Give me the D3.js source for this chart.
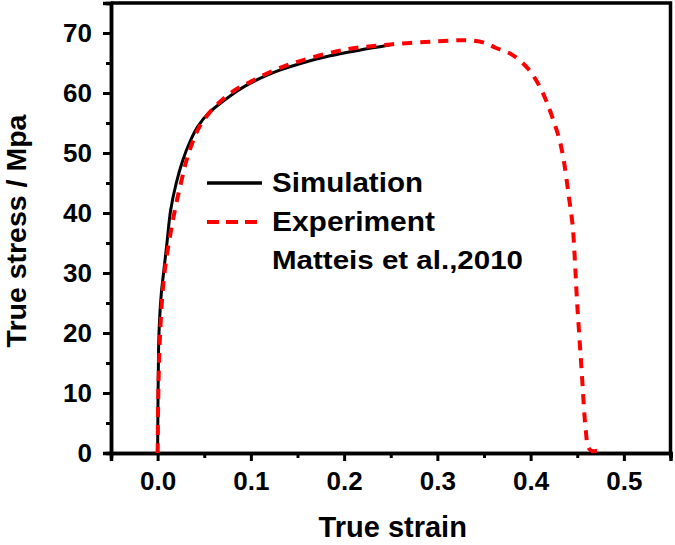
<!DOCTYPE html>
<html>
<head>
<meta charset="utf-8">
<script src="https://cdn.jsdelivr.net/npm/d3@7"></script>
<style>
  body { margin: 0; background: #fff; }
  text { font-family: "Liberation Sans", Arial, sans-serif; font-weight: bold; fill: #000; }
</style>
</head>
<body>
<div id="chart"></div>
<script>
var svgWidth = 675;
var svgHeight = 545;

// Simulation (black solid)
var simStrain = [0, 0.001, 0.002, 0.004, 0.006, 0.01, 0.014, 0.02, 0.027, 0.035, 0.043, 0.055, 0.07, 0.085, 0.099, 0.115, 0.131, 0.155, 0.185, 0.215, 0.249];
var simStress = [0, 17, 22, 26.7, 29.5, 35, 40.5, 45, 48.8, 52, 54.4, 56.7, 58.6, 60.3, 61.6, 62.8, 63.8, 65, 66.2, 67.1, 68];

// Experiment (red dashed)
var expStrain = [0, 0.001, 0.003, 0.006, 0.01, 0.0185, 0.025, 0.031, 0.038, 0.045, 0.06, 0.08, 0.1, 0.125, 0.15, 0.2, 0.25, 0.3, 0.33, 0.35, 0.363, 0.38, 0.397, 0.409, 0.4165, 0.4236, 0.431, 0.436, 0.441, 0.445, 0.4475, 0.4495, 0.452, 0.455, 0.459, 0.462, 0.466, 0.472, 0.48];
var expStress = [0, 12, 21, 28, 33, 40.5, 45, 48.8, 52, 54.4, 57.5, 60.2, 61.9, 63.8, 65.2, 67.2, 68.1, 68.6, 68.8, 68.4, 67.5, 66.4, 64.1, 61.3, 58.8, 55.8, 52.2, 48.3, 42.7, 38, 32, 26, 20, 13, 4, 0.9, 0.3, 0.4, 0.5];

var xTicks = [0, 0.1, 0.2, 0.3, 0.4, 0.5];
var xMinor = [-0.05, 0.05, 0.15, 0.25, 0.35, 0.45, 0.55];
var yTicks = [0, 10, 20, 30, 40, 50, 60, 70];
var yMinor = [5, 15, 25, 35, 45, 55, 65];

var legendLabels = ["Simulation", "Experiment", "Matteis et al.,2010"];

var margin = { top: 3, right: 4.5, bottom: 92, left: 111 };
var chartWidth = svgWidth - margin.left - margin.right;
var chartHeight = svgHeight - margin.top - margin.bottom;

var svg = d3.select("#chart").append("svg")
    .attr("width", svgWidth)
    .attr("height", svgHeight);

var chartGroup = svg.append("g")
    .attr("transform", `translate(${margin.left}, ${margin.top})`);

// scales
var x = d3.scaleLinear().domain([-0.05, 0.55]).range([0, chartWidth]);
var y = d3.scaleLinear().domain([0, 75]).range([chartHeight, 0]);

// frame (top + right)
chartGroup.append("path")
    .attr("d", `M0,0H${chartWidth}V${chartHeight}`)
    .attr("fill", "none")
    .attr("stroke", "#000")
    .attr("stroke-width", 3.5);

// minor ticks
var bottomMinor = d3.axisBottom(x).tickValues(xMinor).tickSize(5).tickFormat("");
var leftMinor = d3.axisLeft(y).tickValues(yMinor).tickSize(5).tickFormat("");

chartGroup.append("g")
    .attr("class", "axis")
    .attr("transform", `translate(0, ${chartHeight})`)
    .call(bottomMinor);
chartGroup.append("g")
    .attr("class", "axis")
    .call(leftMinor);

// major axes
var bottomAxis = d3.axisBottom(x).tickValues(xTicks).tickSize(8).tickPadding(11).tickFormat(d3.format(".1f"));
var leftAxis = d3.axisLeft(y).tickValues(yTicks).tickSize(8).tickPadding(11).tickFormat(d3.format("d"));

chartGroup.append("g")
    .attr("class", "axis")
    .attr("transform", `translate(0, ${chartHeight})`)
    .call(bottomAxis);
chartGroup.append("g")
    .attr("class", "axis")
    .call(leftAxis);

chartGroup.selectAll(".axis path.domain")
    .attr("stroke", "#000")
    .attr("stroke-width", 3.5);
chartGroup.selectAll(".axis line")
    .attr("stroke", "#000")
    .attr("stroke-width", 3);
chartGroup.selectAll(".axis text")
    .style("font-size", "26px")
    .style("font-family", "Liberation Sans, Arial, sans-serif")
    .style("font-weight", "bold");

// lines
var simData = simStrain.map((d, i) => ({ x: d, y: simStress[i] }));
var expData = expStrain.map((d, i) => ({ x: d, y: expStress[i] }));

var line = d3.line()
    .x(d => x(d.x))
    .y(d => y(d.y))
    .curve(d3.curveCatmullRom.alpha(0.5));

chartGroup.append("path")
    .datum(simData)
    .attr("d", line)
    .attr("fill", "none")
    .attr("stroke", "#000")
    .attr("stroke-width", 3);

chartGroup.append("path")
    .datum(expData)
    .attr("d", line)
    .attr("fill", "none")
    .attr("stroke", "#ff0000")
    .attr("stroke-width", 4)
    .attr("stroke-dasharray", "10,8");

// legend
var legend = svg.append("g").attr("transform", "translate(207, 0)");

legend.append("line")
    .attr("x1", 0).attr("x2", 55)
    .attr("y1", 183).attr("y2", 183)
    .attr("stroke", "#000")
    .attr("stroke-width", 3.5);

legend.append("line")
    .attr("x1", 0).attr("x2", 55)
    .attr("y1", 222).attr("y2", 222)
    .attr("stroke", "#ff0000")
    .attr("stroke-width", 4)
    .attr("stroke-dasharray", "12,7");

legend.selectAll("text.leg")
    .data(legendLabels)
    .enter()
    .append("text")
    .attr("class", "leg")
    .attr("x", 65)
    .attr("y", (d, i) => [192, 231, 269][i])
    .attr("textLength", (d, i) => [151, 163, 251][i])
    .attr("lengthAdjust", "spacingAndGlyphs")
    .style("font-size", (d, i) => i < 2 ? "27px" : "26px")
    .text(d => d);

// axis titles
svg.append("text")
    .attr("transform", `translate(${margin.left + chartWidth / 2 + 2}, 537)`)
    .style("text-anchor", "middle")
    .style("font-size", "29px")
    .text("True strain");

svg.append("text")
    .attr("transform", "translate(26, 231) rotate(-90)")
    .style("text-anchor", "middle")
    .style("font-size", "28.5px")
    .text("True stress / Mpa");
</script>
</body>
</html>
